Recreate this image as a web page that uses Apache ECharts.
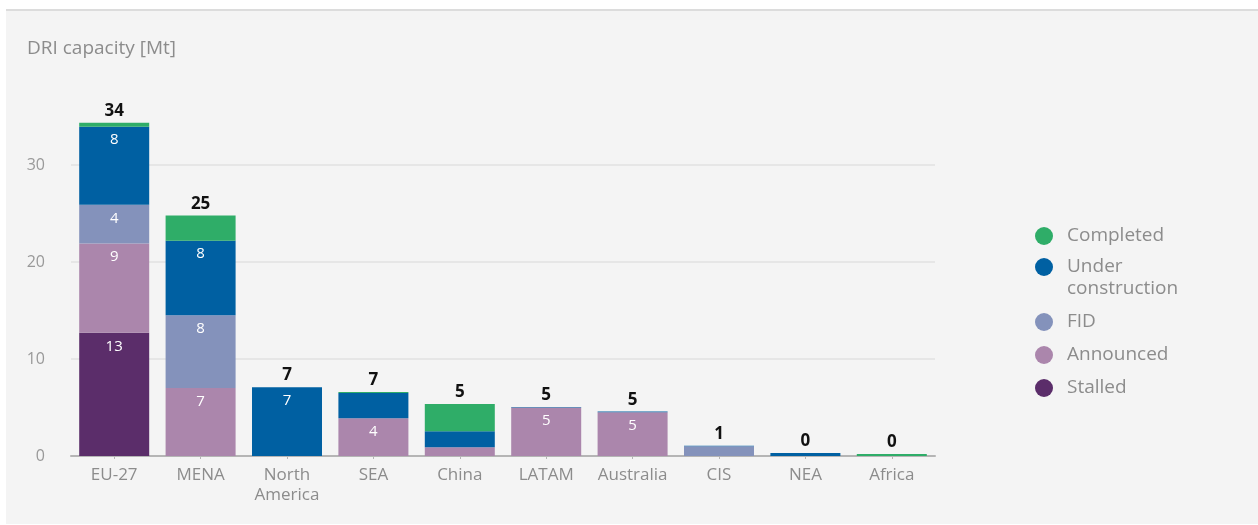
<!DOCTYPE html>
<html>
<head>
<meta charset="utf-8">
<script src="https://cdn.jsdelivr.net/npm/echarts@6/dist/echarts.min.js"></script>
<style>
	html, body { margin: 0; padding: 0; background: #fff; }
	#panel { position: absolute; left: 6px; top: 9px; width: 1252px; height: 513px; background: #f4f4f4; border-top: 2px solid #dcdcdc; }
	#main { position: absolute; left: 0; top: 0; width: 1258px; height: 525px; }
</style>
</head>
<body>
<div id="panel"></div>
<div id="main"></div>
<script>
// DRI capacity by region and project stage [Mt]
const categories = ['EU-27', 'MENA', 'North\nAmerica', 'SEA', 'China', 'LATAM', 'Australia', 'CIS', 'NEA', 'Africa'];
const stalled = [12.7, 0, 0, 0, 0, 0, 0, 0, 0, 0];
const announced = [9.2, 7.0, 0, 3.9, 0.9, 5.0, 4.5, 0, 0, 0];
const fid = [4.0, 7.5, 0, 0, 0, 0, 0, 1.0, 0, 0];
const underConstruction = [8.05, 7.7, 7.1, 2.6, 1.65, 0.05, 0.1, 0.05, 0.3, 0];
const completed = [0.4, 2.6, 0, 0.1, 2.8, 0, 0, 0, 0, 0.2];
const yTicks = [0, 10, 20, 30];

const totals = categories.map((c, i) =>
	stalled[i] + announced[i] + fid[i] + underConstruction[i] + completed[i]);

const colors = {
	'Completed': '#2fad68',
	'Under construction': '#0060a2',
	'FID': '#8492bb',
	'Announced': '#ab86ac',
	'Stalled': '#5b2d6a'
};

const font = "'Open Sans', 'Noto Sans', sans-serif";

function stage(name, data) {
	return {
		name: name,
		type: 'bar',
		stack: 'dri',
		barWidth: 70,
		data: data,
		itemStyle: { color: colors[name] },
		label: {
			show: true,
			position: 'insideTop',
			distance: 6,
			color: '#fff',
			fontSize: 15,
			fontFamily: font,
			formatter: p => (p.value >= 3 ? Math.round(p.value) : '')
		}
	};
}

// shared legend look; split up so the two-line item keeps its dot on the first line
const legendBase = {
	orient: 'vertical',
	left: 1035,
	padding: 0,
	itemWidth: 18,
	itemHeight: 18,
	icon: 'circle',
	selectedMode: false,
	textStyle: { color: '#8c8c8c', fontSize: 19, lineHeight: 22, fontFamily: font, padding: [0, 0, 0, 9] },
	// leading blank line pushes "Under" level with the dot
	formatter: name => (name === 'Under construction' ? '\nUnder\nconstruction' : name)
};

const myChart = echarts.init(document.getElementById('main'), null, { renderer: 'canvas' });

const option = {
	animation: false,
	backgroundColor: 'transparent',
	title: {
		text: 'DRI capacity [Mt]',
		left: 22,
		top: 34,
		textStyle: { color: '#8c8c8c', fontSize: 19, fontWeight: 'normal', fontFamily: font }
	},
	legend: [
		Object.assign({}, legendBase, { top: 225, data: ['Completed'] }),
		Object.assign({}, legendBase, { top: 234, data: ['Under construction'] }),
		Object.assign({}, legendBase, { top: 311, itemGap: 11, data: ['FID', 'Announced', 'Stalled'] })
	],
	grid: { left: 71, right: 323, top: 68, bottom: 69 },
	xAxis: {
		type: 'category',
		data: categories,
		axisLine: { lineStyle: { color: '#b5b5b5', width: 2 } },
		axisTick: { show: true, alignWithLabel: true, length: 3, lineStyle: { color: '#b5b5b5' } },
		axisLabel: { interval: 0, color: '#8c8c8c', fontSize: 17, lineHeight: 20, margin: 9, fontFamily: font }
	},
	yAxis: {
		type: 'value',
		min: yTicks[0],
		max: 40,
		interval: 10,
		axisLine: { show: false },
		axisTick: { show: false },
		axisLabel: {
			color: '#999',
			fontSize: 16,
			margin: 26,
			fontFamily: font,
			showMaxLabel: false
		},
		splitLine: {
			lineStyle: { color: ['#e6e6e6', '#e6e6e6', '#e6e6e6', '#e6e6e6', 'transparent'], width: 2 }
		}
	},
	series: [
		stage('Stalled', stalled),
		stage('Announced', announced),
		stage('FID', fid),
		stage('Under construction', underConstruction),
		stage('Completed', completed),
		{
			name: 'Total',
			type: 'bar',
			stack: 'dri',
			barWidth: 70,
			data: categories.map(() => 0),
			itemStyle: { color: 'transparent' },
			label: {
				show: true,
				position: 'top',
				distance: 3,
				color: '#111',
				fontSize: 17,
				fontWeight: 'bold',
				fontFamily: font,
				formatter: p => Math.round(totals[p.dataIndex])
			}
		}
	]
};

myChart.setOption(option);
</script>
</body>
</html>
